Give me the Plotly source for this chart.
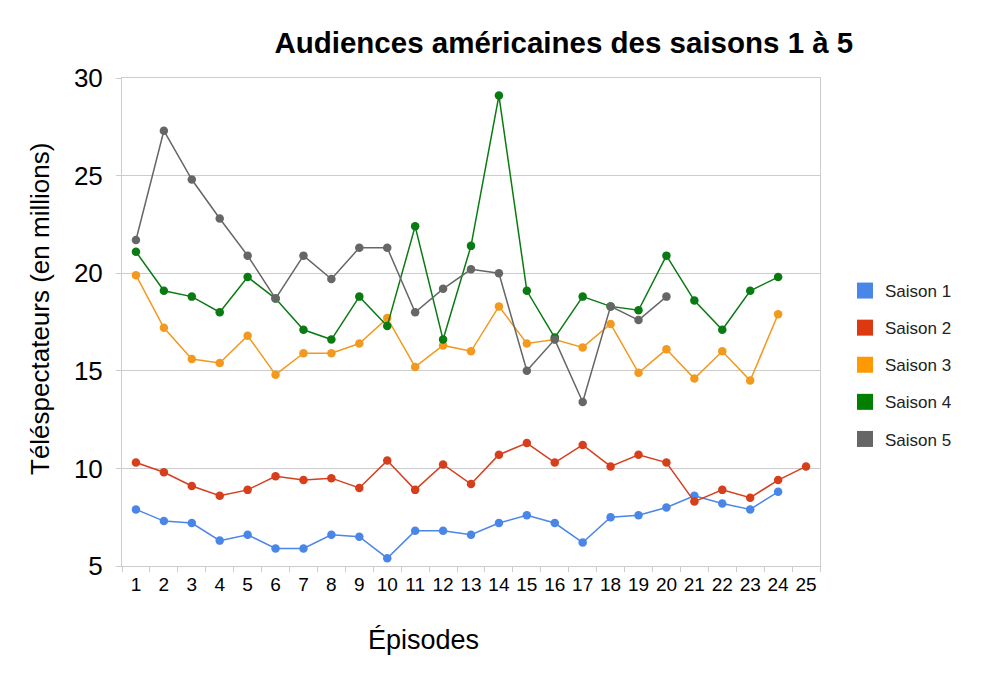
import plotly.graph_objects as go

episodes = [str(i) for i in range(1, 26)]
saison1 = [7.9, 7.3, 7.2, 6.3, 6.6, 5.9, 5.9, 6.6, 6.5, 5.4, 6.8, 6.8, 6.6, 7.2, 7.6, 7.2, 6.2, 7.5, 7.6, 8.0, 8.6, 8.2, 7.9, 8.8]
saison2 = [10.3, 9.8, 9.1, 8.6, 8.9, 9.6, 9.4, 9.5, 9.0, 10.4, 8.9, 10.2, 9.2, 10.7, 11.3, 10.3, 11.2, 10.1, 10.7, 10.3, 8.3, 8.9, 8.5, 9.4, 10.1]
saison3 = [19.9, 17.2, 15.6, 15.4, 16.8, 14.8, 15.9, 15.9, 16.4, 17.7, 15.2, 16.3, 16.0, 18.3, 16.4, 16.6, 16.2, 17.4, 14.9, 16.1, 14.6, 16.0, 14.5, 17.9]
saison4 = [21.1, 19.1, 18.8, 18.0, 19.8, 18.7, 17.1, 16.6, 18.8, 17.3, 22.4, 16.6, 21.4, 29.1, 19.1, 16.7, 18.8, 18.3, 18.1, 20.9, 18.6, 17.1, 19.1, 19.8]
saison5 = [21.7, 27.3, 24.8, 22.8, 20.9, 18.7, 20.9, 19.7, 21.3, 21.3, 18.0, 19.2, 20.2, 20.0, 15.0, 16.6, 13.4, 18.3, 17.6, 18.8]

series_names = ["Saison 1", "Saison 2", "Saison 3", "Saison 4", "Saison 5"]
series_values = [saison1, saison2, saison3, saison4, saison5]
colors = ["#4a86e8", "#d63e1c", "#f39a1e", "#0a7a12", "#666666"]
legend_colors = ["#4a86e8", "#dc3912", "#ff9900", "#008000", "#666666"]

FONT = "Liberation Sans, Arial, sans-serif"

fig = go.Figure()
for name, vals, col in zip(series_names, series_values, colors):
    fig.add_trace(go.Scatter(
        x=episodes[:len(vals)], y=vals, mode="lines+markers", name=name,
        line=dict(color=col, width=1.5), marker=dict(color=col, size=8.5),
        showlegend=False, hoverinfo="x+y+name"))
# legend entries as squares
for i, (name, col) in enumerate(zip(series_names, legend_colors)):
    fig.add_trace(go.Scatter(
        x=[None], y=[None], mode="markers", name=name, legendgroup=f"g{i}",
        marker=dict(color=col, size=16, symbol="square"), showlegend=True))

fig.update_layout(
    width=985, height=677,
    margin=dict(l=122, r=165, t=78, b=111),
    paper_bgcolor="white", plot_bgcolor="white",
    font=dict(family=FONT, color="#000"),
    title=dict(text="<b>Audiences américaines des saisons 1 à 5</b>",
               x=0.633, xref="paper", xanchor="center",
               y=1 - 43 / 677, yanchor="middle",
               font=dict(size=29.5, family=FONT, color="#000")),
    legend=dict(x=(845 - 122) / 698, xanchor="left", y=1 - (273 - 78) / 488, yanchor="top",
                font=dict(size=17, family=FONT, color="#222"),
                tracegroupgap=12, bgcolor="rgba(0,0,0,0)", itemclick=False),
    showlegend=True,
)
fig.update_xaxes(
    type="category", categoryorder="array", categoryarray=episodes,
    range=[-0.5, 24.5], tickson="boundaries", ticks="outside", ticklen=5,
    tickcolor="#cccccc", showline=True, linecolor="#cccccc", mirror=True,
    showgrid=False, tickfont=dict(size=19, family=FONT, color="#000"),
    tickangle=0, ticklabelstandoff=1, fixedrange=True)
fig.update_yaxes(
    range=[5, 30], dtick=5, tick0=5, ticks="outside", ticklen=5,
    tickcolor="#cccccc", showline=True, linecolor="#cccccc", mirror=True,
    showgrid=True, gridcolor="#cccccc", gridwidth=1, zeroline=False,
    tickfont=dict(size=26, family=FONT, color="#000"), ticklabelstandoff=8,
    fixedrange=True)

fig.add_annotation(text="Épisodes", xref="paper", yref="paper",
                   x=(423 - 122) / 698, y=1 - (640 - 78) / 488,
                   xanchor="center", yanchor="middle", showarrow=False,
                   font=dict(size=27, family=FONT, color="#000"))
fig.add_annotation(text="Téléspectateurs (en millions)", xref="paper", yref="paper",
                   x=(40 - 122) / 698, y=1 - (309 - 78) / 488, textangle=-90,
                   xanchor="center", yanchor="middle", showarrow=False,
                   font=dict(size=26, family=FONT, color="#000"))

fig.write_html("out.html")
